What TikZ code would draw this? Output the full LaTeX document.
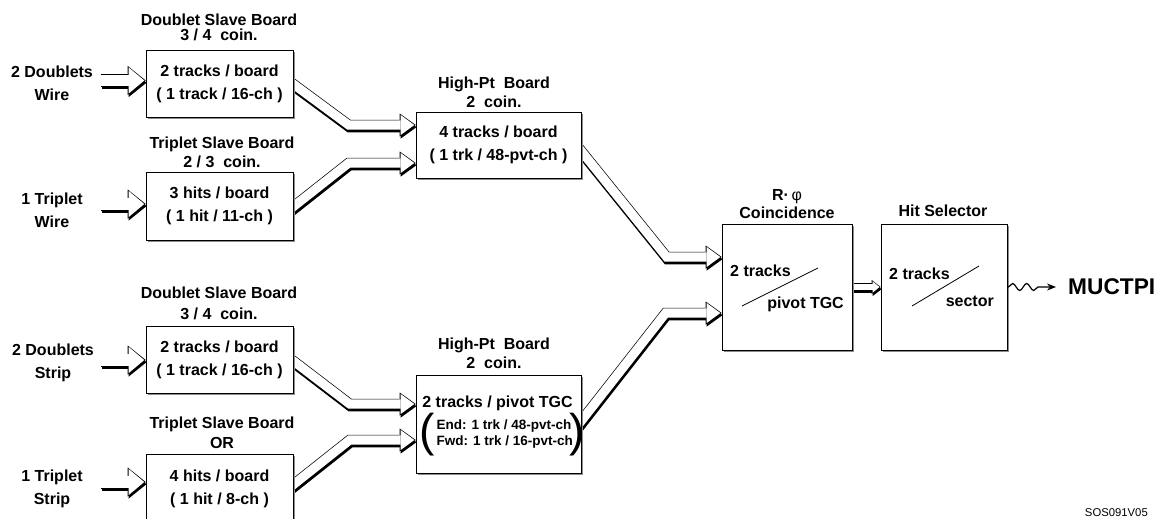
\documentclass[tikz,border=0pt]{standalone}
\usepackage{fontspec}
\setmainfont{Liberation Sans}
\usetikzlibrary{arrows.meta,calc,shadows,backgrounds,decorations.pathmorphing}

\tikzset{
  board/.style={draw, fill=white, line width=0.6pt, inner sep=0pt, align=center,
    font=\fontsize{16}{23}\selectfont\bfseries,
    drop shadow={shadow xshift=2pt, shadow yshift=-2pt, fill=black!45, opacity=1}},
  title/.style={align=center, inner sep=0pt, font=\fontsize{16}{19}\selectfont\bfseries},
  source/.style={align=center, inner sep=0pt, font=\fontsize{16}{23}\selectfont\bfseries},
  inside/.style={inner sep=0pt, font=\fontsize{16}{19}\selectfont\bfseries},
  paren/.style={inner sep=0pt, font=\fontsize{46}{46}\selectfont},
  % hollow fat arrows: black rim, white core
  inrim/.style={line width=13pt, -{Triangle[length=18pt, width=29pt, line width=0pt]}},
  incore/.style={white, line width=11.6pt, shorten <=0.7pt, shorten >=1.4pt,
    -{Triangle[length=15.6pt, width=26pt, line width=0pt]}},
  linkrim/.style={line width=10.5pt, miter limit=10, -{Triangle[length=16pt, width=23pt, line width=0pt]}},
  linkcore/.style={white, line width=9.1pt, miter limit=10, shorten >=1.4pt,
    -{Triangle[length=13.6pt, width=20pt, line width=0pt]}},
  hoprim/.style={line width=8pt, -{Triangle[length=9pt, width=14pt, line width=0pt]}},
  hopcore/.style={white, line width=6.6pt, shorten >=1.2pt,
    -{Triangle[length=7pt, width=11.5pt, line width=0pt]}},
}
\newcommand\hollow[2]{%
  \begin{scope}[transform canvas={xshift=0.8pt, yshift=-2.2pt}]
    \draw[#1rim] #2;
  \end{scope}
  \draw[#1rim] #2;
  \draw[#1core] #2;
}

\begin{document}
\begin{tikzpicture}[x=1pt, y=-1pt]
\useasboundingbox (0,0) rectangle (1157,519);
\clip (0,0) rectangle (1157,519);

% sources
\node[source] (dwire) at (52,83.5) {2 Doublets\\Wire};
\node[source] (twire) at (52,210.5) {1 Triplet\\Wire};
\node[source] (dstrip) at (53,363) {2 Doublets\\Strip};
\node[source] (tstrip) at (52,488.5) {1 Triplet\\Strip};

% boards
\node[board, minimum width=147pt, minimum height=67pt] (dsw) at (219.5,83.5) {2 tracks / board\\( 1 track / 16-ch )};
\node[board, minimum width=147pt, minimum height=68pt] (tsw) at (219.5,206) {3 hits / board\\( 1 hit / 11-ch )};
\node[board, minimum width=165pt, minimum height=66pt] (hpw) at (498.5,145) {4 tracks / board\\( 1 trk / 48-pvt-ch )};
\node[board, minimum width=147pt, minimum height=67pt] (dss) at (219.5,359.5) {2 tracks / board\\( 1 track / 16-ch )};
\node[board, minimum width=147pt, minimum height=69pt] (tss) at (219.5,488.5) {4 hits / board\\( 1 hit / 8-ch )};
\node[board, minimum width=165pt, minimum height=98pt] (hps) at (498.5,424) {};
\node[board, minimum width=130pt, minimum height=126pt] (rphi) at (787,287) {};
\node[board, minimum width=126pt, minimum height=126pt] (hit) at (944,287) {};

% titles
\node[title] (dswt) at (219,27.5) {Doublet Slave Board\\[-4pt]3 / 4\ \ coin.};
\node[title] (tswt) at (222,152.5) {Triplet Slave Board\\2 / 3\ \ coin.};
\node[title] (hpwt) at (494,92) {High-Pt\ \ Board\\2\ \ coin.};
\node[title] (dsst) at (219,303) {Doublet Slave Board\\[2pt]3 / 4\ \ coin.};
\node[title] (tsst) at (222,433) {Triplet Slave Board\\[1pt]OR};
\node[title] (hpst) at (494,353.5) {High-Pt\ \ Board\\2\ \ coin.};
\node[title] (rphit) at (787,204) {R·\,{\mdseries φ}\\[-1pt]Coincidence};
\node[title] (hitt) at (943,211) {Hit Selector};

% board contents
\node[inside] (hptrk) at ($(hps.center)+(-1,-21)$) {2 tracks / pivot TGC};
\node[inside, anchor=west, align=left, font=\fontsize{13.5}{16}\selectfont\bfseries] (hpend) at ($(hps.center)+(-62,10)$)
  {End: 1 trk / 48-pvt-ch\\Fwd: 1 trk / 16-pvt-ch};
\node[paren] (hplp) at ($(hps.center)+(-71,11)$) {(};
\node[paren] (hprp) at ($(hps.center)+(79,11)$) {)};
\node[inside, anchor=west] (rtrk) at ($(rphi.center)+(-57,-16)$) {2 tracks};
\node[inside, anchor=east] (rpiv) at ($(rphi.center)+(57,17)$) {pivot TGC};
\draw[line width=0.8pt] ($(rphi.center)+(-45,19)$) -- ($(rphi.center)+(31,-19)$);
\node[inside, anchor=west] (htrk) at ($(hit.center)+(-55,-13)$) {2 tracks};
\node[inside, anchor=east] (hsec) at ($(hit.center)+(50,14)$) {sector};
\draw[line width=0.8pt] ($(hit.center)+(-32,19)$) -- ($(hit.center)+(35,-21)$);

% output
\node[inner sep=0pt, anchor=west, font=\fontsize{22.7}{26}\selectfont\bfseries] (muctpi) at (1068,287) {MUCTPI};
\coordinate (mutip) at ($(muctpi.west)+(-12,0)$);
\node[inner sep=0pt, anchor=east, font=\fontsize{11.3}{13}\selectfont] (tag) at (1148,513) {SOS091V05};

% arrows
\begin{pgfonlayer}{background}
\fill[white] (0,0) rectangle (1157,519);
\hollow{in}{($(dsw.west)+(-45,-3)$) -- ($(dsw.west)+(0,-3)$)}
\hollow{in}{($(tsw.west)+(-45,-2)$) -- ($(tsw.west)+(0,-2)$)}
\hollow{in}{($(dss.west)+(-45,0.5)$) -- ($(dss.west)+(0,0.5)$)}
\hollow{in}{($(tss.west)+(-45,-6.5)$) -- ($(tss.west)+(0,-6.5)$)}
\hollow{link}{($(dsw.east)+(-13,-9)$) -- ($(hpw.west)+(-67,-20)$) -- ($(hpw.west)+(0,-20)$)}
\hollow{link}{($(tsw.east)+(-13,11)$) -- ($(hpw.west)+(-67,18)$) -- ($(hpw.west)+(0,18)$)}
\hollow{link}{($(dss.east)+(-13,-8.5)$) -- ($(hps.west)+(-66,-20)$) -- ($(hps.west)+(0,-20)$)}
\hollow{link}{($(tss.east)+(-13,6.5)$) -- ($(hps.west)+(-66,16)$) -- ($(hps.west)+(0,16)$)}
\hollow{link}{($(hpw.east)+(-13,-10)$) -- ($(rphi.west)+(-55,-30)$) -- ($(rphi.west)+(0,-30)$)}
\hollow{link}{($(hps.east)+(-13,13.5)$) -- ($(rphi.west)+(-56,26)$) -- ($(rphi.west)+(0,26)$)}
\hollow{hop}{(rphi.east) -- (hit.west)}
\end{pgfonlayer}
\draw[line width=1.2pt, decorate, decoration={snake, segment length=14pt, amplitude=3.5pt, pre length=1pt, post length=11pt},
  -{Stealth[length=9pt, width=7pt]}] (hit.east) -- (mutip);
\end{tikzpicture}
\end{document}
